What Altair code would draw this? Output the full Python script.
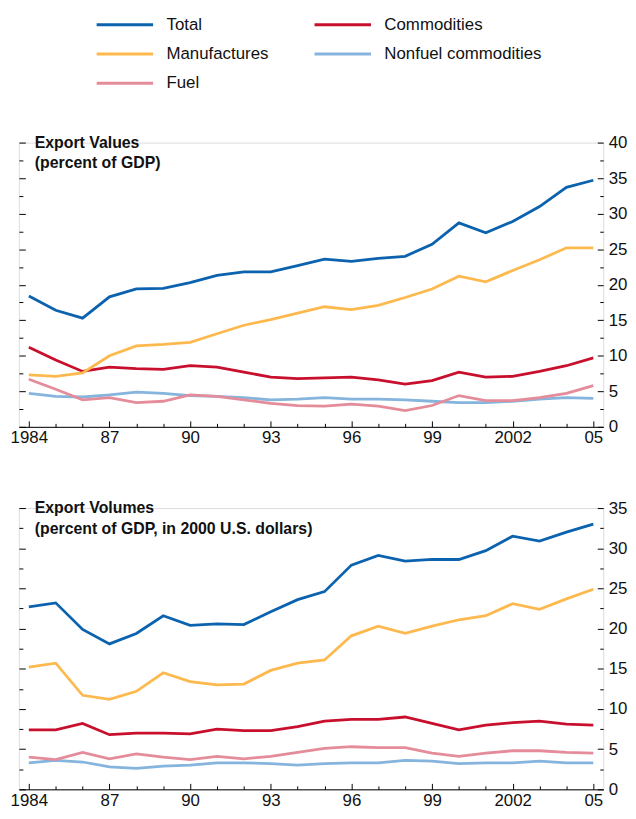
import altair as alt
import pandas as pd

YEARS = list(range(1984, 2006))
LABEL_YEARS = [1984, 1987, 1990, 1993, 1996, 1999, 2002, 2005]
LABEL_TEXT = ["1984", "87", "90", "93", "96", "99", "2002", "05"]

SERIES = ["Total", "Commodities", "Manufactures", "Nonfuel commodities", "Fuel"]
COLORS = ["#0b62ae", "#c8102e", "#fdb94e", "#85b4dd", "#e58c9b"]
# legend fills column by column: left column Total/Manufactures/Fuel
LEGEND_ORDER = ["Total", "Manufactures", "Fuel", "Commodities", "Nonfuel commodities"]

TITLE_TOP = ["Export Values", "(percent of GDP)"]
TITLE_BOTTOM = ["Export Volumes", "(percent of GDP, in 2000 U.S. dollars)"]

# Export values (percent of GDP)
VAL_TOTAL = [18.4, 16.4, 15.3, 18.3, 19.4, 19.5, 20.3, 21.3, 21.8, 21.8, 22.7,
             23.6, 23.3, 23.7, 24.0, 25.7, 28.7, 27.3, 28.9, 31.0, 33.7, 34.7]
VAL_COMM = [11.2, 9.4, 7.8, 8.4, 8.2, 8.1, 8.6, 8.4, 7.7, 7.0, 6.8,
            6.9, 7.0, 6.6, 6.0, 6.5, 7.7, 7.0, 7.1, 7.8, 8.6, 9.7]
VAL_MANU = [7.3, 7.1, 7.6, 10.0, 11.4, 11.6, 11.9, 13.1, 14.3, 15.1, 16.0,
            16.9, 16.5, 17.1, 18.2, 19.4, 21.2, 20.4, 22.0, 23.5, 25.2, 25.2]
VAL_NONFUEL = [4.7, 4.3, 4.2, 4.5, 4.9, 4.7, 4.4, 4.3, 4.1, 3.8, 3.9,
               4.1, 3.9, 3.9, 3.8, 3.6, 3.4, 3.4, 3.6, 3.9, 4.1, 4.0]
VAL_FUEL = [6.7, 5.3, 3.8, 4.1, 3.4, 3.6, 4.5, 4.3, 3.8, 3.3, 3.0,
            2.9, 3.2, 2.9, 2.3, 3.0, 4.4, 3.7, 3.7, 4.1, 4.7, 5.8]

# Export volumes (percent of GDP, in 2000 U.S. dollars)
VOL_TOTAL = [22.7, 23.2, 19.9, 18.1, 19.4, 21.6, 20.4, 20.6, 20.5, 22.1, 23.6,
             24.6, 27.9, 29.1, 28.4, 28.6, 28.6, 29.7, 31.5, 30.9, 32.0, 33.0]
VOL_COMM = [7.4, 7.4, 8.2, 6.8, 7.0, 7.0, 6.9, 7.5, 7.3, 7.3, 7.8,
            8.5, 8.7, 8.7, 9.0, 8.2, 7.4, 8.0, 8.3, 8.5, 8.1, 8.0]
VOL_MANU = [15.2, 15.7, 11.7, 11.2, 12.2, 14.5, 13.4, 13.0, 13.1, 14.8, 15.7,
            16.1, 19.1, 20.3, 19.4, 20.3, 21.1, 21.6, 23.1, 22.4, 23.7, 24.9]
VOL_NONFUEL = [3.3, 3.6, 3.4, 2.8, 2.6, 2.9, 3.0, 3.3, 3.3, 3.2, 3.0,
               3.2, 3.3, 3.3, 3.6, 3.5, 3.2, 3.3, 3.3, 3.5, 3.3, 3.3]
VOL_FUEL = [4.0, 3.7, 4.6, 3.8, 4.4, 4.0, 3.7, 4.1, 3.8, 4.1, 4.6,
            5.1, 5.3, 5.2, 5.2, 4.5, 4.1, 4.5, 4.8, 4.8, 4.6, 4.5]

FONT = "Liberation Sans"
W = 590


def long_df(cols):
    rows = []
    for name, vals in zip(SERIES, cols):
        for y, v in zip(YEARS, vals):
            rows.append({"year": y, "value": v, "series": name})
    return pd.DataFrame(rows)


label_expr = "''"
for yv, lt in zip(reversed(LABEL_YEARS), reversed(LABEL_TEXT)):
    label_expr = f"datum.value == {yv} ? '{lt}' : ({label_expr})"

COLOR_BY_SERIES = dict(zip(SERIES, COLORS))


def panel(cols, ymax, H, title_lines, show_legend):
    df = long_df(cols)
    base = alt.Chart(df)
    x_scale = alt.Scale(domain=[1983.63, 2005.37], nice=False, zero=False)
    y_scale = alt.Scale(domain=[0, ymax], nice=False, zero=True)
    y_ticks = [i * 2.5 for i in range(int(round(ymax / 2.5)) + 1)]

    legend = None
    if show_legend:
        legend = alt.Legend(
            orient="none", legendX=91, legendY=-135, columns=2, title=None,
            symbolType="M-2,0L2,0", symbolStrokeWidth=3, symbolSize=812,
            symbolFillColor="transparent", padding=0,
            labelFontSize=17, labelFont=FONT, labelColor="#111", labelLimit=400,
            labelOffset=26, rowPadding=5.5, columnPadding=40,
        )

    lines = base.mark_line(strokeWidth=2.8).encode(
        x=alt.X("year:Q", scale=x_scale,
                axis=alt.Axis(orient="bottom", values=LABEL_YEARS, labelExpr=label_expr,
                              ticks=False, domain=True, domainColor="#000", domainWidth=1,
                              grid=False, title=None, labelPadding=3, labelFontSize=17,
                              labelFont=FONT, labelColor="#111", labelFlush=False)),
        y=alt.Y("value:Q", scale=y_scale,
                axis=alt.Axis(orient="right", values=y_ticks[::2], ticks=False, domain=False,
                              grid=False, title=None, labelPadding=5, labelFontSize=17,
                              labelFont=FONT, labelColor="#111")),
        color=alt.Color("series:N",
                        scale=alt.Scale(domain=LEGEND_ORDER,
                                        range=[COLOR_BY_SERIES[s] for s in LEGEND_ORDER]),
                        legend=legend),
        order=alt.Order("year:Q"),
    )

    ticks_a = base.mark_point(opacity=0).encode(
        x=alt.X("year:Q", scale=x_scale,
                axis=alt.Axis(orient="top", offset=-H, values=YEARS, labels=False,
                              domain=False, grid=False, title=None, tickColor="#000",
                              tickWidth=1,
                              tickSize={"expr": "(datum.value - 1984) % 3 == 0 ? 6 : 3.5"})),
        y=alt.Y("value:Q", scale=y_scale,
                axis=alt.Axis(orient="right", offset=-W, values=y_ticks, labels=False,
                              domain=False, grid=False, title=None, tickColor="#000",
                              tickWidth=1,
                              tickSize={"expr": "datum.value % 5 == 0 ? 6.5 : 4"})),
    )

    ticks_b = base.mark_point(opacity=0).encode(
        x=alt.X("year:Q", scale=x_scale, axis=None),
        y=alt.Y("value:Q", scale=y_scale,
                axis=alt.Axis(orient="left", offset=-W, values=y_ticks, labels=False,
                              domain=False, grid=False, title=None, tickColor="#000",
                              tickWidth=1,
                              tickSize={"expr": "datum.value % 5 == 0 ? 6 : 3.5"})),
    )

    title = alt.Chart(pd.DataFrame({"k": [0]})).mark_text(
        text=title_lines, align="left", baseline="middle", fontWeight="bold",
        fontSize=16, font=FONT, lineHeight=21, color="#111",
    ).encode(x=alt.value(16), y=alt.value(0))

    return alt.layer(lines, ticks_a, ticks_b, title).resolve_axis(
        x="independent", y="independent"
    ).properties(width=W, height=H)


top = panel([VAL_TOTAL, VAL_COMM, VAL_MANU, VAL_NONFUEL, VAL_FUEL], 40, 287, TITLE_TOP, True)
bottom = panel([VOL_TOTAL, VOL_COMM, VOL_MANU, VOL_NONFUEL, VOL_FUEL], 35, 284, TITLE_BOTTOM, False)

chart = alt.vconcat(top, bottom, spacing=52).properties(
    padding={"left": 1, "top": -3, "right": 0, "bottom": 0}
).configure_view(stroke=None).configure(font=FONT)

chart.save("out.html", embed_options={"renderer": "svg", "actions": False})
